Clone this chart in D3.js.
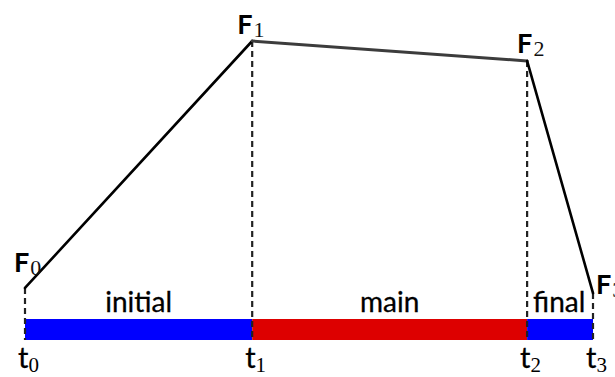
<!DOCTYPE html>
<html>
<head>
<meta charset="utf-8">
<script src="https://cdn.jsdelivr.net/npm/d3@7"></script>
<style>
  body { margin: 0; background: #fff; }
  svg { display: block; }
</style>
</head>
<body>
<div id="chart"></div>
<script>
// time instants (arbitrary units) and force values at each instant
const times = [0, 40, 88.4, 100];
const forces = [8.2, 100, 92.6, 6.3];
const pointLabels = ["0", "1", "2", "3"];

// phases between instants
const phases = ["initial", "main", "final"];
const phaseStart = [0, 40, 88.4];
const phaseEnd = [40, 88.4, 100];

const width = 615;
const height = 377;

const svg = d3.select("#chart")
  .append("svg")
  .attr("width", width)
  .attr("height", height);

const x = d3.scaleLinear().domain([0, 100]).range([25, 593]);
const y = d3.scaleLinear().domain([0, 100]).range([310, 41]);

const barTop = 319;
const barHeight = 21;
const phaseColor = d3.scaleOrdinal().domain(phases).range(["#0000ff", "#dd0000", "#0000ff"]);

// phase bar
svg.selectAll("rect.phase")
  .data(phases)
  .join("rect")
  .attr("class", "phase")
  .attr("x", (d, i) => x(phaseStart[i]))
  .attr("y", barTop)
  .attr("width", (d, i) => x(phaseEnd[i]) - x(phaseStart[i]))
  .attr("height", barHeight)
  .attr("fill", d => phaseColor(d));

// phase names
svg.selectAll("text.phase")
  .data(phases)
  .join("text")
  .attr("class", "phase")
  .attr("x", (d, i) => i === 2 ? x(phaseStart[i]) + 6 : (x(phaseStart[i]) + x(phaseEnd[i])) / 2)
  .attr("y", 312)
  .attr("text-anchor", (d, i) => i === 2 ? "start" : "middle")
  .style("font-family", "Lato, 'Open Sans', sans-serif")
  .style("font-size", "28px")
  .attr("fill", "#000")
  .attr("stroke", "#000")
  .attr("stroke-width", 0.3)
  .text(d => d);

// dashed drop lines
svg.selectAll("line.drop")
  .data(times)
  .join("line")
  .attr("class", "drop")
  .attr("x1", d => x(d))
  .attr("x2", d => x(d))
  .attr("y1", (d, i) => y(forces[i]))
  .attr("y2", barTop + barHeight)
  .attr("stroke", "#222")
  .attr("stroke-width", 2.2)
  .attr("stroke-dasharray", "6,4");

// force profile, one segment per phase
const pts = times.map((t, i) => [x(t), y(forces[i])]);
svg.selectAll("line.seg")
  .data(d3.pairs(pts))
  .join("line")
  .attr("class", "seg")
  .attr("x1", d => d[0][0])
  .attr("y1", d => d[0][1])
  .attr("x2", d => d[1][0])
  .attr("y2", d => d[1][1])
  .attr("stroke", (d, i) => i === 1 ? "#3c3c3c" : "#000")
  .attr("stroke-width", (d, i) => i === 1 ? 3 : 2.6)
  .attr("stroke-linecap", "round");

// F labels
const fOffset = [[-11, -16], [-15, -7], [-10, -8], [3, 1]];
const fLab = svg.selectAll("text.f")
  .data(pointLabels)
  .join("text")
  .attr("class", "f")
  .attr("x", (d, i) => x(times[i]) + fOffset[i][0])
  .attr("y", (d, i) => y(forces[i]) + fOffset[i][1])
  .attr("fill", "#000");
fLab.append("tspan")
  .style("font-family", "Lato, 'Open Sans', sans-serif")
  .style("font-weight", "bold")
  .style("font-size", "27px")
  .text("F");
fLab.append("tspan")
  .attr("dy", 3)
  .attr("dx", 1)
  .style("font-family", "'Liberation Serif', serif")
  .style("font-size", "22px")
  .attr("fill", "#111")
  .text(d => d);

// t labels
const tLab = svg.selectAll("text.t")
  .data(pointLabels)
  .join("text")
  .attr("class", "t")
  .attr("x", (d, i) => x(times[i]) - 7)
  .attr("y", 368)
  .attr("fill", "#000");
tLab.append("tspan")
  .style("font-family", "Lato, 'Open Sans', sans-serif")
  .style("font-size", "29px")
  .attr("stroke", "#000")
  .attr("stroke-width", 0.3)
  .text("t");
tLab.append("tspan")
  .attr("dy", 4)
  .style("font-family", "'Liberation Serif', serif")
  .style("font-size", "21px")
  .text(d => d);
</script>
</body>
</html>
